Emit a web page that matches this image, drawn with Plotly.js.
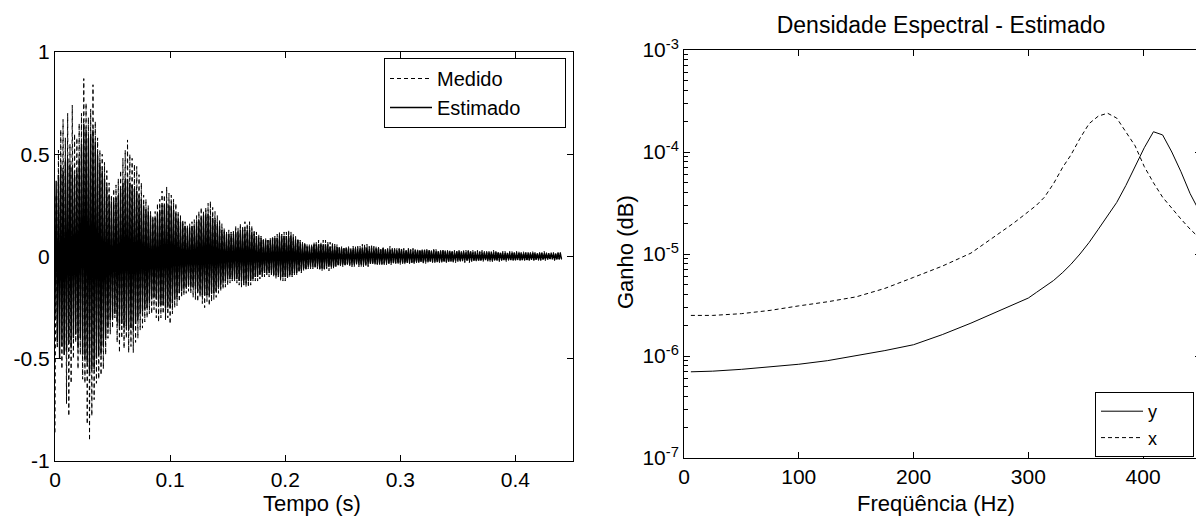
<!DOCTYPE html>
<html><head><meta charset="utf-8">
<script src="https://cdn.plot.ly/plotly-3.0.1.min.js"></script>
<style>html,body{margin:0;padding:0;overflow:hidden;background:#fff;width:1196px;height:516px}#chart{width:1204px;height:516px}</style>
</head><body><div id="chart"></div><script>
// ---- left panel: time response (sample step in seconds) ----
const dt = 0.001;
const medido = [
-0.86,0.30,-0.45,0.52,-0.38,0.62,-0.55,0.67,-0.48,0.58,-0.72,0.70,-0.78,0.55,-0.62,0.74,-0.50,0.60,-0.42,0.58,
-0.55,0.65,-0.48,0.70,-0.60,0.87,-0.62,0.75,-0.82,0.68,-0.90,0.72,-0.78,0.84,-0.70,0.66,-0.62,0.58,-0.60,0.52,
-0.58,0.50,-0.55,0.46,-0.48,0.42,-0.40,0.36,-0.38,0.30,-0.35,0.33,-0.30,0.35,-0.42,0.38,-0.47,0.42,-0.40,0.48,
-0.45,0.52,-0.40,0.57,-0.47,0.50,-0.44,0.48,-0.47,0.45,-0.42,0.44,-0.40,0.40,-0.36,0.36,-0.35,0.30,-0.32,0.28,
-0.30,0.25,-0.28,0.22,-0.28,0.20,-0.26,0.22,-0.30,0.26,-0.32,0.28,-0.30,0.32,-0.28,0.30,-0.31,0.34,-0.30,0.31,
-0.33,0.30,-0.28,0.28,-0.25,0.26,-0.24,0.22,-0.22,0.20,-0.20,0.18,-0.19,0.17,-0.18,0.15,-0.17,0.16,-0.18,0.17,
-0.20,0.18,-0.21,0.20,-0.22,0.22,-0.20,0.24,-0.23,0.22,-0.25,0.24,-0.22,0.26,-0.24,0.27,-0.22,0.24,-0.21,0.22,
-0.20,0.20,-0.18,0.18,-0.17,0.16,-0.16,0.14,-0.15,0.12,-0.14,0.13,-0.13,0.12,-0.12,0.13,-0.12,0.15,-0.13,0.14,
-0.14,0.16,-0.15,0.15,-0.14,0.17,-0.15,0.16,-0.15,0.17,-0.14,0.15,-0.12,0.13,-0.12,0.12,-0.12,0.11,-0.11,0.10,
-0.10,0.09,-0.10,0.09,-0.09,0.08,-0.10,0.09,-0.09,0.10,-0.10,0.10,-0.11,0.11,-0.10,0.12,-0.12,0.11,-0.12,0.12,
-0.12,0.12,-0.11,0.13,-0.10,0.12,-0.10,0.11,-0.09,0.10,-0.09,0.09,-0.08,0.08,-0.08,0.07,-0.07,0.07,-0.07,0.06,
-0.06,0.06,-0.06,0.06,-0.06,0.07,-0.06,0.07,-0.06,0.08,-0.07,0.07,-0.07,0.08,-0.07,0.08,-0.06,0.07,-0.07,0.07,
-0.06,0.07,-0.06,0.06,-0.05,0.06,-0.05,0.05,-0.05,0.05,-0.05,0.04,-0.05,0.05,-0.04,0.05,-0.05,0.04,-0.05,0.05,
-0.05,0.05,-0.04,0.05,-0.05,0.05,-0.05,0.06,-0.05,0.06,-0.05,0.06,-0.05,0.05,-0.04,0.06,-0.04,0.05,-0.04,0.05,
-0.04,0.05,-0.04,0.04,-0.04,0.05,-0.04,0.04,-0.04,0.04,-0.04,0.05,-0.04,0.04,-0.04,0.04,-0.035,0.04,-0.04,0.04,
-0.04,0.04,-0.035,0.04,-0.04,0.035,-0.035,0.04,-0.035,0.035,-0.03,0.04,-0.035,0.04,-0.035,0.035,-0.03,0.035,-0.03,0.035,
-0.035,0.04,-0.035,0.035,-0.03,0.035,-0.03,0.03,-0.03,0.035,-0.03,0.035,-0.03,0.03,-0.03,0.03,-0.03,0.035,-0.03,0.03,
-0.03,0.03,-0.03,0.03,-0.025,0.03,-0.03,0.03,-0.03,0.03,-0.025,0.03,-0.03,0.025,-0.025,0.03,-0.03,0.03,-0.025,0.03,
-0.03,0.03,-0.025,0.03,-0.025,0.025,-0.025,0.03,-0.025,0.025,-0.025,0.03,-0.025,0.025,-0.02,0.025,-0.025,0.025,-0.025,0.025,
-0.025,0.03,-0.025,0.025,-0.02,0.025,-0.025,0.025,-0.02,0.025,-0.02,0.025,-0.025,0.02,-0.02,0.025,-0.02,0.025,-0.02,0.02,
-0.025,0.025,-0.02,0.025,-0.02,0.02,-0.02,0.025,-0.02,0.02,-0.025,0.02,-0.02,0.02,-0.02,0.025,-0.02,0.02,-0.02,0.02,
-0.02,0.02,-0.02,0.02,-0.02,0.025,-0.02,0.02,-0.015,0.02,-0.02,0.02,-0.015,0.02,-0.02,0.015,-0.015,0.02,-0.015,0.02,
-0.015];
const estimado = [
-0.30,0.37,-0.42,0.40,-0.50,0.45,-0.44,0.42,-0.48,0.47,-0.46,0.48,-0.42,0.45,-0.45,0.44,-0.40,0.40,-0.38,0.42,
-0.45,0.48,-0.40,0.55,-0.48,0.65,-0.50,0.62,-0.52,0.58,-0.57,0.60,-0.55,0.62,-0.55,0.56,-0.50,0.50,-0.48,0.46,
-0.48,0.42,-0.44,0.38,-0.40,0.34,-0.35,0.30,-0.31,0.27,-0.30,0.27,-0.28,0.29,-0.32,0.30,-0.34,0.33,-0.33,0.36,
-0.35,0.38,-0.34,0.38,-0.36,0.36,-0.35,0.35,-0.36,0.33,-0.33,0.32,-0.31,0.30,-0.28,0.28,-0.27,0.25,-0.26,0.23,
-0.25,0.22,-0.23,0.20,-0.21,0.18,-0.20,0.19,-0.21,0.21,-0.23,0.23,-0.24,0.25,-0.24,0.25,-0.25,0.26,-0.25,0.25,
-0.25,0.25,-0.23,0.23,-0.21,0.21,-0.20,0.19,-0.18,0.17,-0.17,0.16,-0.16,0.15,-0.15,0.14,-0.14,0.14,-0.15,0.15,
-0.15,0.15,-0.16,0.17,-0.17,0.18,-0.18,0.19,-0.19,0.20,-0.19,0.21,-0.19,0.21,-0.19,0.20,-0.18,0.19,-0.18,0.18,
-0.17,0.16,-0.15,0.15,-0.14,0.13,-0.13,0.12,-0.12,0.11,-0.11,0.11,-0.11,0.11,-0.11,0.11,-0.11,0.12,-0.11,0.12,
-0.12,0.13,-0.12,0.13,-0.13,0.13,-0.13,0.13,-0.12,0.13,-0.12,0.12,-0.11,0.11,-0.10,0.10,-0.10,0.09,-0.09,0.09,
-0.09,0.08,-0.08,0.08,-0.08,0.08,-0.08,0.08,-0.08,0.09,-0.09,0.09,-0.09,0.09,-0.09,0.10,-0.10,0.10,-0.10,0.10,
-0.10,0.10,-0.10,0.10,-0.09,0.10,-0.09,0.09,-0.08,0.08,-0.08,0.08,-0.07,0.07,-0.07,0.06,-0.06,0.06,-0.06,0.05,
-0.05,0.05,-0.05,0.05,-0.05,0.06,-0.05,0.06,-0.05,0.06,-0.06,0.06,-0.06,0.06,-0.06,0.06,-0.05,0.06,-0.05,0.05,
-0.05,0.05,-0.05,0.05,-0.045,0.045,-0.04,0.045,-0.04,0.04,-0.04,0.04,-0.04,0.04,-0.035,0.04,-0.04,0.035,-0.04,0.04,
-0.04,0.04,-0.035,0.04,-0.04,0.04,-0.04,0.045,-0.04,0.045,-0.04,0.045,-0.04,0.04,-0.035,0.04,-0.035,0.04,-0.035,0.04,
-0.035,0.04,-0.035,0.035,-0.035,0.04,-0.035,0.035,-0.03,0.035,-0.035,0.035,-0.03,0.035,-0.03,0.035,-0.03,0.03,-0.03,0.035,
-0.03,0.035,-0.03,0.03,-0.03,0.03,-0.03,0.035,-0.03,0.03,-0.03,0.03,-0.03,0.03,-0.025,0.03,-0.03,0.03,-0.025,0.03,
-0.03,0.03,-0.025,0.03,-0.025,0.03,-0.025,0.025,-0.025,0.03,-0.025,0.025,-0.025,0.025,-0.025,0.025,-0.025,0.03,-0.025,0.025,
-0.025,0.025,-0.025,0.025,-0.02,0.025,-0.025,0.02,-0.02,0.025,-0.02,0.025,-0.02,0.02,-0.02,0.025,-0.02,0.02,-0.02,0.025,
-0.02,0.025,-0.02,0.02,-0.02,0.02,-0.02,0.02,-0.02,0.02,-0.02,0.02,-0.018,0.02,-0.018,0.02,-0.02,0.02,-0.018,0.02,
-0.02,0.02,-0.018,0.02,-0.018,0.02,-0.018,0.018,-0.018,0.018,-0.018,0.018,-0.018,0.018,-0.015,0.018,-0.018,0.018,-0.015,0.018,
-0.018,0.018,-0.015,0.018,-0.015,0.015,-0.018,0.015,-0.015,0.018,-0.015,0.015,-0.015,0.015,-0.015,0.018,-0.015,0.015,-0.015,0.015,
-0.015,0.015,-0.015,0.018,-0.015,0.015,-0.012,0.015,-0.015,0.015,-0.012,0.015,-0.012,0.015,-0.015,0.012,-0.012,0.015,-0.012,0.015,
-0.012];
const timeTicks = [0, 0.1, 0.2, 0.3, 0.4];
const timeTickText = ['0', '0.1', '0.2', '0.3', '0.4'];
const ampTicks = [-1, -0.5, 0, 0.5, 1];
const ampTickText = ['-1', '-0.5', '0', '0.5', '1'];

// ---- right panel: spectral density ----
const freqHz = [6,25,50,75,100,125,150,175,200,225,250,275,287,300,307,314,322,330,337,345,353,361,369,377,385,393,401,409,417,425,433,441,450];
const ganhoY = [7.0e-7,7.1e-7,7.4e-7,7.8e-7,8.3e-7,9.0e-7,1.0e-6,1.13e-6,1.29e-6,1.62e-6,2.1e-6,2.8e-6,3.2e-6,3.7e-6,4.2e-6,4.8e-6,5.5e-6,6.6e-6,7.9e-6,1.0e-5,1.3e-5,1.75e-5,2.4e-5,3.2e-5,4.7e-5,7.3e-5,1.1e-4,1.58e-4,1.47e-4,1.0e-4,6.4e-5,3.9e-5,2.5e-5];
const ganhoX = [2.5e-6,2.5e-6,2.6e-6,2.8e-6,3.1e-6,3.4e-6,3.8e-6,4.6e-6,5.9e-6,7.6e-6,1.02e-5,1.6e-5,2.0e-5,2.6e-5,3.0e-5,3.6e-5,4.9e-5,7.1e-5,9.3e-5,1.36e-4,1.9e-4,2.25e-4,2.4e-4,2.15e-4,1.56e-4,1.15e-4,7.2e-5,5.0e-5,3.6e-5,2.8e-5,2.2e-5,1.75e-5,1.4e-5];
const freqTicks = [0, 100, 200, 300, 400];
const freqTickText = ['0', '100', '200', '300', '400'];
const gainTicks = [1e-7, 1e-6, 1e-5, 1e-4, 1e-3];
const gainTickText = ['10<sup>-7</sup>', '10<sup>-6</sup>', '10<sup>-5</sup>', '10<sup>-4</sup>', '10<sup>-3</sup>'];

const time = medido.map((_, i) => +(i * dt).toFixed(4));
const minorGain = [];
gainTicks.slice(0, -1).forEach(d => { for (let k = 2; k <= 9; k++) minorGain.push(k * d); });

const W = 1204, H = 516;
const FONT = 'Liberation Sans, Arial, sans-serif';
const px = v => v / W;
const py = v => 1 - v / H;
const NB = '\u00A0';

const X2L = 684, X2R = 1200.5;

const traces = [
  {x: time, y: medido, type: 'scatter', mode: 'lines', name: 'Medido',
   line: {color: '#000', width: 1, dash: '4px,3px'}, xaxis: 'x', yaxis: 'y', legend: 'legend'},
  {x: time, y: estimado, type: 'scatter', mode: 'lines', name: 'Estimado' + NB.repeat(7),
   line: {color: '#000', width: 1.4}, xaxis: 'x', yaxis: 'y', legend: 'legend'},
  {x: freqHz, y: ganhoY, type: 'scatter', mode: 'lines', name: 'y' + NB.repeat(6),
   line: {color: '#000', width: 1}, xaxis: 'x2', yaxis: 'y2', legend: 'legend2'},
  {x: freqHz, y: ganhoX, type: 'scatter', mode: 'lines', name: 'x' + NB.repeat(6),
   line: {color: '#000', width: 1, dash: '4px,3px'}, xaxis: 'x2', yaxis: 'y2', legend: 'legend2'},
  // carrier for the overlaid minor-tick axis (no visible marks)
  {x: [null], y: [null], type: 'scatter', mode: 'lines', xaxis: 'x2', yaxis: 'y3',
   showlegend: false, hoverinfo: 'skip', line: {color: 'rgba(0,0,0,0)'}}
];

const axBase = {
  showgrid: false, zeroline: false, showline: true, linecolor: '#000', linewidth: 1,
  mirror: 'ticks', ticks: 'inside', ticklen: 6, tickcolor: '#000', tickwidth: 1,
  tickfont: {family: FONT, size: 21, color: '#000'}, automargin: false, fixedrange: true
};

const layout = {
  width: W, height: H,
  margin: {l: 0, r: 0, t: 0, b: 0},
  paper_bgcolor: '#fff', plot_bgcolor: '#fff',
  font: {family: FONT, size: 21, color: '#000'},
  title: {text: 'Densidade Espectral - Estimado', x: px(941), y: py(25), xanchor: 'center', yanchor: 'middle',
          xref: 'paper', yref: 'container', font: {family: FONT, size: 23, color: '#000'}},
  xaxis: Object.assign({}, axBase, {domain: [px(55), px(573)], range: [0, 0.45],
          tickmode: 'array', tickvals: timeTicks, ticktext: timeTickText, anchor: 'y'}),
  yaxis: Object.assign({}, axBase, {domain: [1 - 461 / H, 1 - 52 / H], range: [-1, 1],
          tickmode: 'array', tickvals: ampTicks, ticktext: ampTickText, anchor: 'x'}),
  xaxis2: Object.assign({}, axBase, {domain: [px(X2L), px(X2R)], range: [0, 450],
          tickmode: 'array', tickvals: freqTicks, ticktext: freqTickText, anchor: 'y2'}),
  yaxis2: Object.assign({}, axBase, {domain: [1 - 458 / H, 1 - 50 / H], type: 'log', range: [-7, -3],
          tickmode: 'array', tickvals: gainTicks, ticktext: gainTickText, anchor: 'x2'}),
  // minor ticks of the log axis, drawn by an overlaid axis with the same range
  yaxis3: {overlaying: 'y2', anchor: 'x2', side: 'left', type: 'log', range: [-7, -3],
           tickmode: 'array', tickvals: minorGain, ticks: 'inside', ticklen: 4, tickcolor: '#000', tickwidth: 1,
           showticklabels: false, showline: false, mirror: 'ticks', showgrid: false, zeroline: false,
           fixedrange: true, automargin: false},
  showlegend: true,
  legend: {x: px(566), y: py(58), xanchor: 'right', yanchor: 'top', bgcolor: '#fff',
           bordercolor: '#000', borderwidth: 1, itemwidth: 42, tracegroupgap: 0,
           font: {family: FONT, size: 20, color: '#000'}},
  legend2: {x: px(1194), y: py(392), xanchor: 'right', yanchor: 'top', bgcolor: '#fff',
           bordercolor: '#000', borderwidth: 1, itemwidth: 42, tracegroupgap: 0,
           font: {family: FONT, size: 18, color: '#000'}},
  annotations: [
    {text: 'Tempo (s)', x: px(312), y: py(503), xref: 'paper', yref: 'paper', showarrow: false,
     xanchor: 'center', yanchor: 'middle', font: {family: FONT, size: 22, color: '#000'}},
    {text: 'Freqüência (Hz)', x: px(936), y: py(503), xref: 'paper', yref: 'paper', showarrow: false,
     xanchor: 'center', yanchor: 'middle', font: {family: FONT, size: 22, color: '#000'}},
    {text: 'Ganho (dB)', x: px(625), y: py(252), xref: 'paper', yref: 'paper', showarrow: false,
     textangle: -90, xanchor: 'center', yanchor: 'middle', font: {family: FONT, size: 22, color: '#000'}}
  ]
};

Plotly.newPlot('chart', traces, layout, {displayModeBar: false, staticPlot: true});
</script></body></html>
